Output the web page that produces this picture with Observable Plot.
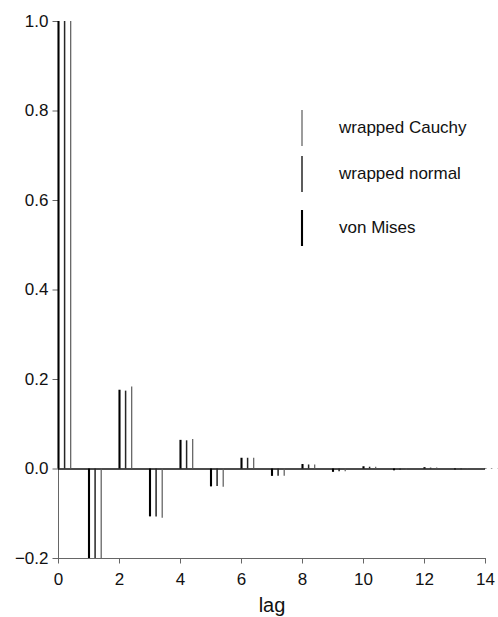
<!DOCTYPE html>
<html>
<head>
<meta charset="utf-8">
<script src="https://cdn.jsdelivr.net/npm/d3@7"></script>
<script src="https://cdn.jsdelivr.net/npm/@observablehq/plot@0.6"></script>
<style>
  html, body { margin: 0; padding: 0; background: #fff; }
  #chart { position: relative; width: 498px; height: 617px; font-family: "Liberation Sans", Arial, Helvetica, sans-serif; color: #111; }
  #chart svg { display: block; }
  .legend { position: absolute; left: 296px; top: 109px; font-size: 17px; color: #111; }
  .legend .row { position: absolute; left: 0; display: flex; align-items: center; white-space: nowrap; }
  .legend .row svg { width: 12px; height: 38px; margin-right: 31px; }
</style>
</head>
<body>
<div id="chart"></div>
<script>
// Autocorrelation by lag for three circular distributions
const lags = [0, 1, 2, 3, 4, 5, 6, 7, 8, 9, 10, 11, 12, 13, 14];
const vonMises      = [1, -0.2, 0.176, -0.107, 0.064, -0.040, 0.024, -0.0165, 0.010, -0.0075, 0.005, -0.004, 0.003, -0.002, 0.001];
const wrappedNormal = [1, -0.2, 0.174, -0.107, 0.063, -0.039, 0.024, -0.016, 0.009, -0.006, 0.004, -0.003, 0.002, -0.0015, 0.001];
const wrappedCauchy = [1, -0.2, 0.183, -0.110, 0.066, -0.041, 0.024, -0.016, 0.009, -0.006, 0.004, -0.003, 0.002, -0.001, 0.0008];

const seriesNames = ["von Mises", "wrapped normal", "wrapped Cauchy"];
const xTicks = [0, 2, 4, 6, 8, 10, 12, 14];
const yTicks = [-0.2, 0, 0.2, 0.4, 0.6, 0.8, 1.0];

// side-by-side placement of the three spikes within each lag
const offsets = [0, 0.2, 0.4];
const styles = [
  {stroke: "#000", strokeWidth: 2.1},
  {stroke: "#262626", strokeWidth: 1.5},
  {stroke: "#5a5a5a", strokeWidth: 1.2}
];

const seriesValues = [vonMises, wrappedNormal, wrappedCauchy];
const tables = seriesValues.map((vals, s) =>
  lags.map((lag, i) => ({lag, x: lag + offsets[s], value: vals[i], series: seriesNames[s]}))
);

const fmt = d3.format(".1f");

const plot = Plot.plot({
  width: 498,
  height: 617,
  marginTop: 21,
  marginBottom: 59,
  marginLeft: 58,
  marginRight: 13,
  style: {fontFamily: "'Liberation Sans', Arial, Helvetica, sans-serif", color: "#111", background: "#fff"},
  x: {domain: [0, 14]},
  y: {domain: [-0.2, 1.0]},
  marks: [
    // axis lines
    Plot.ruleX([0], {stroke: "#666", strokeWidth: 1}),
    Plot.ruleY([-0.2], {stroke: "#666", strokeWidth: 1}),
    Plot.axisX({ticks: xTicks, tickSize: 5.5, tickPadding: 8.5, fontSize: 17, stroke: "#666", label: null}),
    Plot.axisY({ticks: yTicks, tickSize: 5.5, tickPadding: 4.5, fontSize: 17, stroke: "#666", tickFormat: fmt, label: null}),
    Plot.text(["lag"], {frameAnchor: "bottom", lineAnchor: "bottom", dy: 53, fontSize: 20, fill: "#111"}),
    // zero reference line
    Plot.ruleY([0], {stroke: "#111", strokeWidth: 1.3}),
    // spikes, one mark per distribution
    ...tables.map((t, s) => Plot.ruleX(t, {x: "x", y1: 0, y2: "value", ...styles[s]}))
  ]
});

const chart = document.getElementById("chart");
chart.appendChild(plot);

// legend, listed top to bottom as Cauchy, normal, von Mises
const legend = document.createElement("div");
legend.className = "legend";
const order = [2, 1, 0];
const rowTops = [0, 46, 100];
order.forEach((s, k) => {
  const row = document.createElement("div");
  row.className = "row";
  row.style.top = rowTops[k] + "px";
  row.innerHTML =
    `<svg viewBox="0 0 12 38"><line x1="6" x2="6" y1="1" y2="37" stroke="${styles[s].stroke}" stroke-width="${styles[s].strokeWidth}"/></svg>` +
    `<span>${seriesNames[s]}</span>`;
  legend.appendChild(row);
});
chart.appendChild(legend);
</script>
</body>
</html>
